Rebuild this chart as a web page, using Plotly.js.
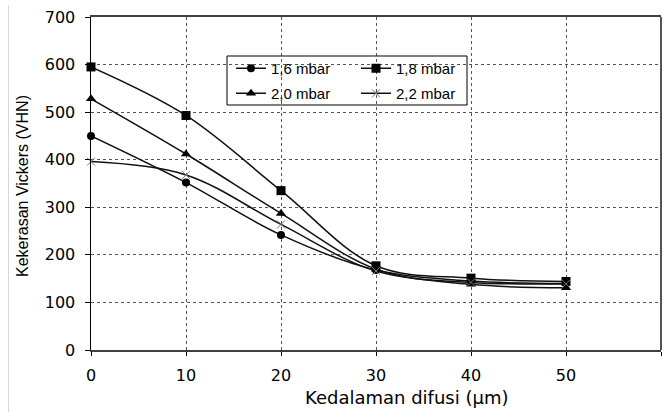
<!DOCTYPE html>
<html>
<head>
<meta charset="utf-8">
<script src="https://cdn.plot.ly/plotly-3.0.1.min.js"></script>
<style>html,body{margin:0;padding:0;background:#fff;}#chart{width:671px;height:412px;}</style>
</head>
<body>
<div id="chart"></div>
<script>
const depth = [0, 10, 20, 30, 40, 50];
const seriesNames = ["1,6 mbar", "1,8 mbar", "2,0 mbar", "2,2 mbar"];
const hardness16 = [450, 352, 242, 168, 145, 140];
const hardness18 = [595, 493, 335, 177, 151, 144];
const hardness20 = [528, 412, 287, 170, 138, 131];
const hardness22 = [396, 368, 264, 166, 142, 139];
const xTicks = [0, 10, 20, 30, 40, 50, 60];
const yTicks = [0, 100, 200, 300, 400, 500, 600, 700];

const font = "Liberation Sans, Arial, sans-serif";
const wide = "DejaVu Sans, Verdana, sans-serif";

function tr(name, y, symbol, size, mcolor, legend, mline) {
  return {
    x: depth, y: y, name: name, type: "scatter", mode: "lines+markers",
    line: {color: "#111", width: 1.5, shape: "spline", smoothing: 1},
    marker: {symbol: symbol, size: size, color: mcolor, line: mline || {width: 0}},
    legend: legend, cliponaxis: false
  };
}

const data = [
  tr(seriesNames[0], hardness16, "circle", 8, "#000", "legend"),
  tr(seriesNames[1], hardness18, "square", 9, "#000", "legend"),
  tr(seriesNames[2], hardness20, "triangle-up", 9, "#000", "legend2"),
  tr(seriesNames[3], hardness22, "x-thin-open", 8, "#777", "legend2", {width: 1, color: "#777"})
];

const legendCommon = {
  orientation: "h", xanchor: "left", yanchor: "top",
  font: {family: font, size: 15, color: "#000"},
  bgcolor: "rgba(0,0,0,0)", borderwidth: 0,
  entrywidth: 80, entrywidthmode: "pixels",
  itemwidth: 30, tracegroupgap: 0
};

const W = 570, H = 333, L = 91, T = 17;
const px = v => (v - L) / W;
const py = v => 1 - (v - T) / H;

const layout = {
  width: 671, height: 412,
  margin: {l: 91, r: 10, t: 17, b: 62, pad: 0},
  paper_bgcolor: "#fff", plot_bgcolor: "#fff",
  font: {family: font, size: 15, color: "#000"},
  xaxis: {
    range: [0, 60], tickvals: xTicks, ticktext: xTicks.map(String),
    showline: true, linecolor: "#404040", linewidth: 2, mirror: true,
    ticks: "outside", ticklen: 4, tickcolor: "#000", tickwidth: 1,
    showgrid: true, gridcolor: "#555", griddash: "dot", gridwidth: 1,
    zeroline: false, tickfont: {family: wide, size: 16}, ticklabelstandoff: 6,
    fixedrange: true
  },
  yaxis: {
    range: [0, 700], tickvals: yTicks, ticktext: yTicks.map(String),
    showline: true, linecolor: "#000", linewidth: 1.5, mirror: false,
    ticks: "outside", ticklen: 5, tickcolor: "#000", tickwidth: 1,
    showgrid: true, gridcolor: "#555", griddash: "dot", gridwidth: 1,
    zeroline: false, tickfont: {family: wide, size: 16}, ticklabelstandoff: 6,
    fixedrange: true
  },
  showlegend: true,
  legend: Object.assign({}, legendCommon, {x: px(231), y: py(52)}),
  legend2: Object.assign({}, legendCommon, {x: px(231), y: py(77)}),
  shapes: [
    {type: "rect", xref: "paper", yref: "paper", x0: px(227), x1: px(467), y0: py(56), y1: py(105),
     line: {color: "#000", width: 1}, fillcolor: "rgba(0,0,0,0)", layer: "above"},
    {type: "line", xref: "paper", yref: "paper", x0: 1, x1: 1, y0: 0, y1: 1,
     line: {color: "#555", width: 2}},
    {type: "line", xref: "paper", yref: "paper", x0: px(8.5), x1: px(8.5), y0: py(412), y1: py(5),
     line: {color: "#d8d8d8", width: 1}}
  ],
  annotations: [
    {text: "Kekerasan Vickers (VHN)", xref: "paper", yref: "paper", x: px(22), y: py(186),
     textangle: -90, showarrow: false, xanchor: "center", yanchor: "middle",
     font: {family: font, size: 16, color: "#000"}},
    {text: "Kedalaman difusi (µm)", xref: "paper", yref: "paper", x: px(407), y: py(397),
     showarrow: false, xanchor: "center", yanchor: "middle",
     font: {family: wide, size: 18, color: "#000"}}
  ]
};

Plotly.newPlot("chart", data, layout, {displayModeBar: false, staticPlot: true});
</script>
</body>
</html>
